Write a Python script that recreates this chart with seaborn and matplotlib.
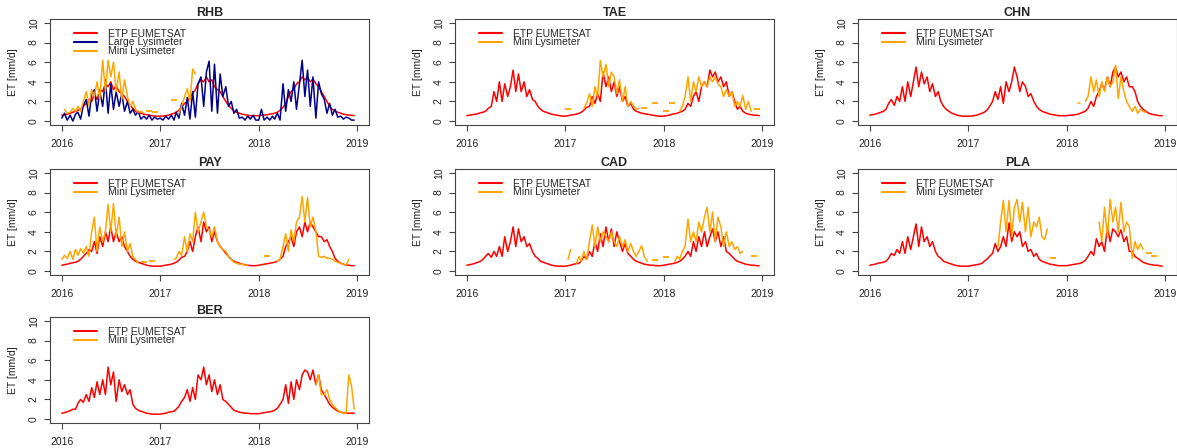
import matplotlib
matplotlib.use("Agg")
import matplotlib.pyplot as plt
import numpy as np
import pandas as pd
import seaborn as sns
from matplotlib.lines import Line2D

# ---------------------------------------------------------------
# Data: values read every ~10 days (1st, 11th, 21st of each month)
# one row per year 2016, 2017, 2018
# ---------------------------------------------------------------
N = np.nan
YEARS = [2016, 2017, 2018]
DAYS = [1, 11, 21]

rhb_etp = [
    .6, .65, .7, .8, .9, 1.0, 1.1, 1.2, 1.5, 1.8, 2.2, 2.0, 2.8, 2.2, 3.2, 3.0, 3.8, 3.5,
    4.0, 3.2, 3.6, 3.0, 2.8, 2.5, 2.0, 1.6, 1.3, 1.0, .9, .8, .7, .65, .6, .55, .5, .5,
    .5, .5, .55, .6, .7, .8, .9, 1.1, 1.4, 1.8, 2.0, 2.5, 2.8, 3.2, 3.8, 4.2, 4.0, 4.5,
    4.0, 4.2, 3.5, 3.2, 3.0, 2.5, 2.0, 1.6, 1.3, 1.0, .9, .8, .7, .65, .6, .55, .55, .55,
    .55, .6, .6, .65, .7, .75, .8, .9, 1.1, 1.4, 1.8, 2.5, 3.0, 3.2, 3.8, 4.0, 4.5, 4.2,
    4.5, 4.0, 4.3, 3.8, 3.5, 3.0, 2.5, 2.0, 1.5, 1.2, 1.0, .9, .8, .7, .65, .6, .6, .55,
]
rhb_large = [
    .3, .8, .1, .6, 0.0, .7, .9, .2, 1.6, 2.2, .5, 2.8, 3.2, 1.0, 3.0, 1.5, 4.2, .8,
    3.8, 1.2, 3.0, 1.5, 2.8, 1.0, 2.0, .8, 1.2, .6, 1.0, .2, .5, .2, .6, .1, .4, .2,
    .3, .1, .5, .2, .6, .1, .9, .3, 1.8, .6, 2.4, .2, 3.0, .4, 3.8, 4.5, 1.5, 5.0,
    6.1, 1.0, 5.8, .8, 4.8, 2.5, 3.5, 1.5, 2.0, .8, 1.2, .3, .4, .1, .5, .2, .6, .1,
    .1, 1.2, .1, .4, .1, .5, .2, .8, .1, 3.8, 1.0, 3.2, 2.0, 4.0, 1.2, 3.8, 6.2, 2.5,
    5.2, 1.5, 4.5, .3, 4.0, 2.8, 2.2, .8, 1.8, .6, 1.2, .4, .5, .2, .4, .3, .1, .1,
]
rhb_mini = [
    N, 1.2, .8, .9, 1.3, 1.0, 1.5, 1.0, 2.0, 3.0, 1.6, 3.2, 2.5, 4.0, 2.2, 6.2, 3.0, 6.2,
    4.5, 6.0, 3.0, 5.0, 2.2, 4.2, 2.5, 1.5, 2.0, 1.2, .9, 1.0, .8, N, 1.0, N, .9, N,
    N, N, N, N, N, 2.1, N, .8, 1.5, 2.5, 3.3, 2.0, 5.3, 4.8, N, N, N, N,
    N, N, N, N, N, N, N, N, N, N, N, N, N, N, N, N, N, N,
    N, N, N, N, N, N, N, N, N, N, N, N, N, N, N, N, N, N,
    N, N, N, N, N, N, N, N, N, N, N, N, N, N, N, N, N, N,
]

tae_etp = [
    .55, .6, .65, .7, .75, .85, .9, 1.0, 1.3, 1.5, 3.0, 2.0, 4.0, 2.0, 3.8, 2.5, 3.5, 5.2,
    3.0, 4.8, 3.0, 4.0, 2.5, 3.2, 2.2, 2.0, 1.5, 1.2, 1.0, .9, .8, .7, .65, .6, .55, .5,
    .5, .55, .6, .65, .7, .8, .9, 1.1, 1.4, 1.5, 2.5, 1.8, 2.8, 2.0, 5.0, 3.5, 4.5, 3.0,
    4.0, 2.5, 3.5, 2.0, 2.5, 1.5, 1.8, 1.2, 1.0, .9, .8, .75, .7, .65, .6, .55, .5, .5,
    .5, .55, .6, .7, .75, .8, .9, 1.0, 1.2, 1.8, 1.5, 2.5, 3.0, 2.0, 3.5, 4.0, 3.5, 5.2,
    4.5, 5.0, 4.0, 4.5, 3.5, 4.0, 2.5, 3.0, 2.0, 1.2, 1.5, 1.0, .8, .7, .65, .6, .6, .55,
]
tae_mini = [
    N, N, N, N, N, N, N, N, N, N, N, N, N, N, N, N, N, N,
    N, N, N, N, N, N, N, N, N, N, N, N, N, N, N, N, N, N,
    N, 1.2, N, N, N, N, N, 1.3, 1.8, 2.8, 1.5, 3.5, 2.5, 6.2, 4.5, 5.8, 3.5, 5.0,
    4.5, 2.8, 4.2, 2.0, 3.5, 1.5, 2.0, 1.5, 1.2, 1.3, N, 1.3, N, N, N, 1.8, N, N,
    N, 1.0, N, 1.8, N, N, 1.0, 1.5, 2.5, 4.5, 2.0, 4.0, 3.0, 4.5, 3.5, 4.0, 3.5, 4.5,
    4.0, 4.5, 3.8, 3.5, 2.5, 3.2, 2.5, 3.0, 1.5, 2.0, 1.5, 2.6, 1.2, 2.0, 1.0, N, 1.2, N,
]

chn_etp = [
    .6, .65, .7, .8, .9, 1.0, 1.2, 1.8, 2.2, 1.6, 2.5, 2.0, 3.5, 2.0, 4.0, 2.5, 4.0, 5.5,
    3.5, 5.0, 3.8, 4.5, 3.0, 3.8, 2.5, 3.0, 2.0, 1.5, 1.2, 1.0, .8, .7, .6, .55, .5, .5,
    .5, .5, .55, .6, .7, .8, .9, 1.1, 1.5, 2.0, 3.0, 2.2, 3.5, 1.8, 4.0, 3.0, 4.0, 5.5,
    4.5, 3.0, 4.0, 3.5, 2.5, 2.8, 2.0, 1.5, 1.2, 1.0, .9, .8, .7, .65, .6, .55, .55, .55,
    .55, .6, .6, .65, .7, .8, .9, 1.0, 1.3, 2.0, 1.5, 2.5, 3.0, 3.8, 3.2, 4.5, 3.5, 5.0,
    5.5, 4.5, 5.0, 4.0, 4.5, 3.5, 3.5, 3.0, 2.0, 1.5, 1.2, 1.0, .8, .7, .65, .6, .55, .55,
]
chn_mini = [
    N, N, N, N, N, N, N, N, N, N, N, N, N, N, N, N, N, N,
    N, N, N, N, N, N, N, N, N, N, N, N, N, N, N, N, N, N,
    N, N, N, N, N, N, N, N, N, N, N, N, N, N, N, N, N, N,
    N, N, N, N, N, N, N, N, N, N, N, N, N, N, N, N, N, N,
    N, N, N, N, 1.8, 1.8, N, 2.0, 2.5, 4.5, 3.0, 4.2, 2.5, 4.0, 3.0, 4.5, 3.5, 4.0,
    5.7, 2.3, 4.5, 3.0, 2.0, 1.5, 1.0, 1.5, .8, 1.2, 1.0, .9, N, N, N, N, N, N,
]

pay_etp = [
    .6, .65, .7, .8, .85, .9, 1.0, 1.2, 1.5, 1.8, 2.2, 2.0, 3.0, 1.8, 3.5, 2.5, 4.0, 3.0,
    4.5, 3.0, 4.0, 3.0, 3.5, 2.5, 2.0, 1.5, 1.2, 1.0, .9, .8, .7, .6, .55, .5, .5, .5,
    .5, .55, .6, .65, .7, .8, .9, 1.1, 1.4, 1.5, 2.0, 3.0, 2.0, 3.5, 4.5, 3.0, 5.0, 4.0,
    4.5, 3.0, 4.0, 3.0, 2.5, 2.2, 1.8, 1.5, 1.2, 1.0, .9, .8, .7, .65, .6, .55, .55, .55,
    .6, .65, .7, .75, .8, .85, .9, 1.0, 1.2, 1.5, 2.5, 3.0, 3.5, 2.5, 4.0, 4.5, 3.5, 5.0,
    4.0, 5.0, 4.5, 4.0, 3.5, 3.5, 3.0, 3.2, 2.5, 2.0, 1.3, 1.0, .8, .7, .6, .6, .55, .55,
]
pay_mini = [
    1.2, 1.6, 1.3, 2.0, 1.2, 2.2, 1.6, 2.3, 1.8, 2.5, 1.5, 4.0, 5.5, 2.0, 4.5, 3.0, 4.0, 6.8,
    4.0, 6.9, 3.5, 5.5, 2.5, 4.0, 2.0, 2.8, 1.5, 1.2, .8, N, .9, N, N, 1.0, N, N,
    N, N, N, N, N, 1.2, 1.3, 2.0, 1.6, 3.5, 2.0, 3.8, 3.0, 6.0, 4.0, 5.0, 6.0, 4.5,
    4.2, 3.5, 4.5, 3.0, 2.5, 2.2, 2.0, 1.5, 1.2, .9, .8, .7, .7, .6, .6, N, N, N,
    N, N, N, 1.5, N, N, N, 1.0, 1.2, 2.5, 3.8, 2.0, 4.2, 3.0, 5.0, 5.5, 7.6, 5.0,
    7.5, 4.5, 5.5, 4.0, 1.5, 1.4, 1.5, 1.3, 1.3, 1.2, 1.0, .9, .8, .7, .6, 1.2, N, N,
]

cad_etp = [
    .6, .65, .7, .8, .9, 1.0, 1.2, 1.5, 1.8, 1.4, 2.0, 1.5, 2.5, 1.5, 3.5, 2.0, 3.0, 4.5,
    2.5, 4.3, 3.0, 3.5, 2.5, 2.8, 2.0, 1.5, 1.3, 1.0, .9, .8, .7, .6, .55, .5, .5, .5,
    .5, .55, .6, .7, .75, .8, 1.0, 1.5, 1.2, 2.0, 1.5, 3.0, 2.0, 3.8, 2.5, 4.5, 3.0, 4.3,
    2.5, 4.0, 3.0, 2.0, 2.8, 1.8, 1.5, 1.2, 1.0, .9, .8, .7, .65, .6, .6, .55, .55, .55,
    .6, .65, .7, .75, .8, .9, 1.0, 1.2, 1.5, 2.0, 1.5, 3.0, 2.0, 3.5, 2.5, 4.0, 2.5, 3.5,
    4.3, 3.0, 4.0, 2.5, 3.5, 2.0, 1.8, 1.5, 1.2, 1.0, .9, .8, .7, .65, .6, .6, .55, .55,
]
cad_mini = [
    N, N, N, N, N, N, N, N, N, N, N, N, N, N, N, N, N, N,
    N, N, N, N, N, N, N, N, N, N, N, N, N, N, N, N, N, N,
    N, 1.2, 2.2, N, .8, 1.5, 1.0, 2.0, 1.2, 3.0, 4.7, 2.5, 4.5, 3.0, 4.0, 3.5, 3.0, 4.0,
    3.0, 2.5, 3.5, 2.5, 3.2, 2.0, 2.8, 2.0, 1.5, 2.0, 2.6, 1.5, 1.0, N, N, 1.1, N, N,
    N, 1.4, N, N, 1.0, 1.5, 1.2, 2.0, 2.5, 5.3, 3.0, 4.0, 3.0, 5.0, 4.0, 5.5, 6.5, 4.0,
    6.0, 3.0, 5.5, 4.5, 2.5, 4.0, 2.5, 3.0, 2.2, 2.5, 1.8, 2.0, N, N, N, 1.5, N, N,
]

pla_etp = [
    .6, .65, .7, .8, .85, .9, 1.0, 1.3, 1.8, 1.6, 2.2, 1.8, 3.0, 1.8, 3.5, 2.2, 3.5, 4.8,
    2.5, 4.5, 3.0, 3.5, 2.5, 3.0, 2.0, 1.5, 1.3, 1.0, .9, .8, .7, .6, .55, .5, .5, .5,
    .5, .55, .6, .65, .7, .8, 1.0, 1.2, 1.5, 1.8, 2.8, 2.0, 2.5, 3.5, 2.5, 4.9, 3.0, 4.0,
    3.5, 4.0, 2.5, 3.0, 2.0, 2.2, 1.5, 1.8, 1.2, 1.0, .9, .8, .7, .65, .6, .55, .55, .55,
    .55, .6, .65, .7, .75, .8, .9, 1.1, 1.5, 2.0, 1.6, 3.3, 2.5, 3.0, 2.0, 4.5, 3.0, 4.3,
    4.0, 3.5, 4.2, 3.0, 3.5, 2.0, 2.0, 1.5, 1.3, 1.1, .9, .8, .7, .65, .6, .6, .55, .5,
]
pla_mini = [
    N, N, N, N, N, N, N, N, N, N, N, N, N, N, N, N, N, N,
    N, N, N, N, N, N, N, N, N, N, N, N, N, N, N, N, N, N,
    N, N, N, N, N, N, N, N, N, N, N, 2.5, 5.0, 7.2, 4.0, 7.2, 3.5, 6.5,
    7.3, 5.0, 7.0, 4.0, 6.5, 3.5, 5.0, 4.5, 5.5, 3.5, 3.2, 4.3, N, 1.3, N, N, N, N,
    N, N, N, N, N, N, N, N, N, N, N, N, 5.0, 3.0, 6.5, 3.5, 7.3, 5.0,
    6.5, 4.0, 7.0, 4.0, 5.0, 4.5, 1.3, 3.0, 2.2, 2.8, 2.2, N, 1.8, N, 1.5, N, N, N,
]

ber_etp = [
    .6, .65, .75, .85, 1.0, 1.0, 1.6, 2.0, 1.7, 2.5, 1.8, 3.2, 2.2, 3.8, 2.5, 4.0, 2.5, 5.3,
    3.5, 4.8, 1.8, 4.0, 2.8, 3.5, 2.5, 3.0, 1.5, 1.1, .9, .8, .7, .6, .55, .5, .5, .5,
    .5, .55, .6, .7, .75, .8, 1.0, 1.3, 1.8, 2.2, 3.0, 1.8, 3.2, 2.0, 4.5, 4.0, 5.3, 3.5,
    4.5, 2.8, 4.0, 2.5, 3.5, 2.0, 1.8, 1.5, 1.2, .9, .8, .7, .65, .6, .6, .55, .55, .55,
    .55, .6, .65, .7, .75, .8, .9, 1.1, 1.5, 2.0, 3.5, 1.6, 3.8, 2.0, 4.0, 3.0, 4.5, 5.0,
    4.8, 4.0, 5.0, 3.5, 4.5, 3.0, 2.5, 2.0, 1.5, 1.2, 1.0, .8, .7, .65, .6, .6, .6, .6,
]
ber_mini = [
    N, N, N, N, N, N, N, N, N, N, N, N, N, N, N, N, N, N,
    N, N, N, N, N, N, N, N, N, N, N, N, N, N, N, N, N, N,
    N, N, N, N, N, N, N, N, N, N, N, N, N, N, N, N, N, N,
    N, N, N, N, N, N, N, N, N, N, N, N, N, N, N, N, N, N,
    N, N, N, N, N, N, N, N, N, N, N, N, N, N, N, N, N, N,
    N, N, N, 3.5, 4.5, 2.5, 2.5, 3.0, 2.0, 1.5, 1.2, .9, .7, .6, .6, 4.5, 3.4, 1.0,
]

STATIONS = ["RHB", "TAE", "CHN", "PAY", "CAD", "PLA", "BER"]
ETP = [rhb_etp, tae_etp, chn_etp, pay_etp, cad_etp, pla_etp, ber_etp]
MINI = [rhb_mini, tae_mini, chn_mini, pay_mini, cad_mini, pla_mini, ber_mini]

RED, BLUE, ORANGE = "#FF0000", "#00008B", "#FFA500"


def decimal_dates():
    out = []
    for y in YEARS:
        ndays = 366 if y % 4 == 0 else 365
        for m in range(1, 13):
            for d in DAYS:
                doy = pd.Timestamp(y, m, d).dayofyear
                out.append(y + (doy - 1) / ndays)
    return np.array(out)


T = decimal_dates()


def draw_series(ax, values, color):
    v = np.asarray(values, dtype=float)
    df = pd.DataFrame({"t": T, "v": v})
    df["seg"] = df["v"].isna().cumsum()
    df = df.dropna()
    sizes = df.groupby("seg")["v"].transform("size")
    lines = df[sizes > 1]
    dots = df[sizes == 1]
    if len(lines):
        sns.lineplot(data=lines, x="t", y="v", units="seg", estimator=None,
                     color=color, lw=1.1, ax=ax, legend=False)
    if len(dots):
        sns.scatterplot(data=dots, x="t", y="v", color=color, marker="_",
                        s=16, linewidth=1.3, ax=ax, legend=False)


sns.set_style("ticks")
plt.rcParams["font.family"] = ["Liberation Sans", "DejaVu Sans"]

fig = plt.figure(figsize=(11.77, 4.48), dpi=100)

col_left = [50 / 1177, 455 / 1177, 858 / 1177]
row_bottom = [1 - 125 / 448, 1 - 275 / 448, 1 - 423 / 448]
w, h = 319 / 1177, 106 / 448

for i, name in enumerate(STATIONS):
    r, c = divmod(i, 3)
    ax = fig.add_axes([col_left[c], row_bottom[r], w, h])
    draw_series(ax, ETP[i], RED)
    labels = ["ETP EUMETSAT"]
    colors = [RED]
    if name == "RHB":
        draw_series(ax, rhb_large, BLUE)
        labels.append("Large Lysimeter")
        colors.append(BLUE)
    draw_series(ax, MINI[i], ORANGE)
    labels.append("Mini Lysimeter")
    colors.append(ORANGE)

    ax.set_xlim(2016 - 0.12, 2019 + 0.12)
    ax.set_ylim(-0.4, 10.4)
    ax.set_xticks([2016, 2017, 2018, 2019])
    ax.set_xticklabels(["2016", "2017", "2018", "2019"])
    ax.set_yticks([0, 2, 4, 6, 8, 10])
    ax.set_yticklabels(["0", "2", "4", "6", "8", "10"], rotation=90, va="center")
    ax.tick_params(direction="out", length=4, width=0.8, color="#444444",
                   labelsize=7.5, labelcolor="#222222", pad=4)
    ax.tick_params(axis="x", pad=6)
    for sp in ax.spines.values():
        sp.set_visible(True)
        sp.set_color("#444444")
        sp.set_linewidth(0.8)
    ax.set_xlabel("")
    ax.set_ylabel("ET [mm/d]", fontsize=7.5, color="#222222", labelpad=8)
    ax.set_title(name, fontsize=9, fontweight="bold", pad=2)

    handles = [Line2D([], [], color=col, lw=1.5) for col in colors]
    ax.legend(handles, labels, loc="upper left", bbox_to_anchor=(0.075, 0.91),
              frameon=False, fontsize=7.5, handlelength=2.2, handletextpad=1.1,
              labelspacing=-0.1, borderpad=0, borderaxespad=0)

fig.savefig("out.png", dpi=100)
